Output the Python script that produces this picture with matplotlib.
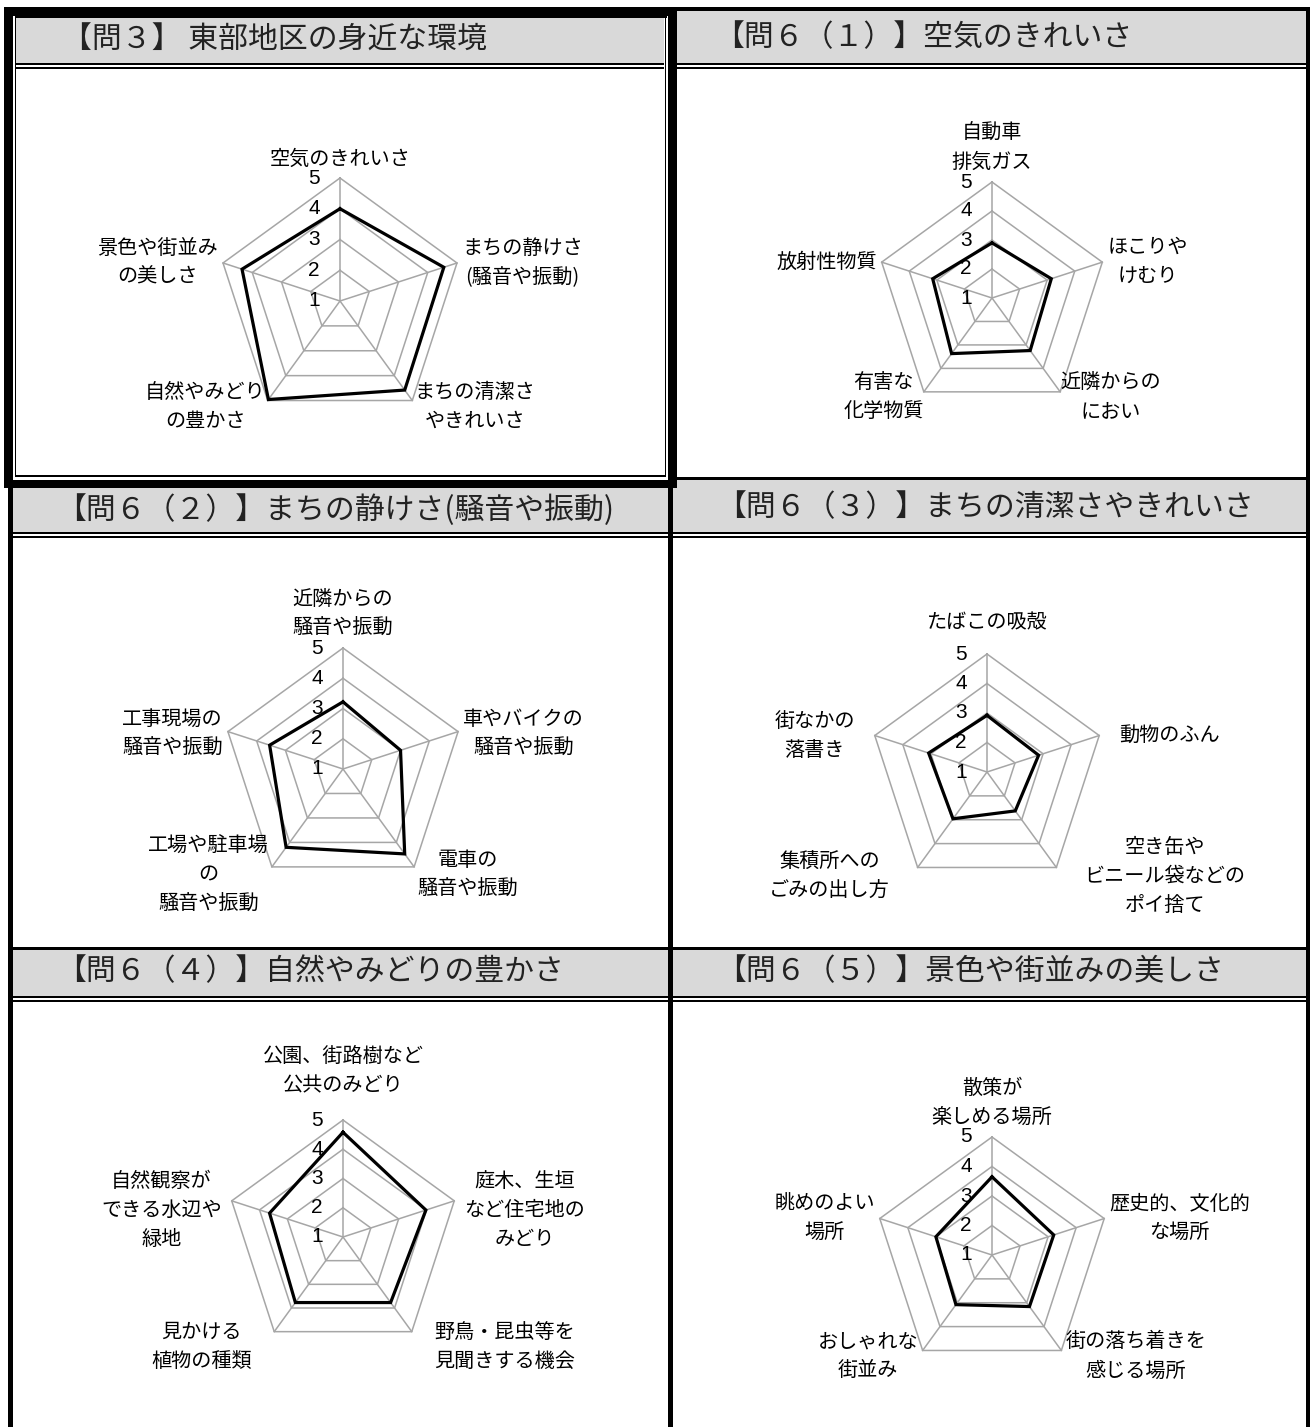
import numpy as np
import matplotlib
matplotlib.use("Agg")
import matplotlib.pyplot as plt
from matplotlib.patches import Rectangle
from matplotlib import font_manager

# data (scale 1..5)
titles = ["【問３】 東部地区の身近な環境",
          "【問６（１）】空気のきれいさ",
          "【問６（２）】まちの静けさ(騒音や振動)",
          "【問６（３）】まちの清潔さやきれいさ",
          "【問６（４）】自然やみどりの豊かさ",
          "【問６（５）】景色や街並みの美しさ"]

cats_q3 = ["空気のきれいさ", "まちの静けさ\n(騒音や振動)", "まちの清潔さ\nやきれいさ",
           "自然やみどり\nの豊かさ", "景色や街並み\nの美しさ"]
vals_q3 = [4.0, 4.55, 4.58, 4.96, 4.35]

cats_air = ["自動車\n排気ガス", "ほこりや\nけむり", "近隣からの\nにおい", "有害な\n化学物質", "放射性物質"]
vals_air = [2.9, 3.15, 3.24, 3.37, 3.15]

cats_noise = ["近隣からの\n騒音や振動", "車やバイクの\n騒音や振動", "電車の\n騒音や振動",
              "工場や駐車場\nの\n騒音や振動", "工事現場の\n騒音や振動"]
vals_noise = [3.22, 3.0, 4.47, 4.2, 3.55]

cats_clean = ["たばこの吸殻", "動物のふん", "空き缶や\nビニール袋などの\nポイ捨て",
              "集積所への\nごみの出し方", "街なかの\n落書き"]
vals_clean = [2.92, 2.84, 2.63, 2.96, 3.08]

cats_green = ["公園、街路樹など\n公共のみどり", "庭木、生垣\nなど住宅地の\nみどり",
              "野鳥・昆虫等を\n見聞きする機会", "見かける\n植物の種類", "自然観察が\nできる水辺や\n緑地"]
vals_green = [4.58, 3.98, 3.77, 3.77, 3.64]

cats_scene = ["散策が\n楽しめる場所", "歴史的、文化的\nな場所", "街の落ち着きを\n感じる場所",
              "おしゃれな\n街並み", "眺めのよい\n場所"]
vals_scene = [3.65, 3.2, 3.16, 3.08, 3.0]

ticks = [1, 2, 3, 4, 5]

all_cats = [cats_q3, cats_air, cats_noise, cats_clean, cats_green, cats_scene]
all_vals = [vals_q3, vals_air, vals_noise, vals_clean, vals_green, vals_scene]

# layout (pixels, y down)
W, H = 1310, 1427
centers = [(340, 301), (992, 298), (343, 769), (987, 772), (343, 1237), (992, 1255)]
radii = [123, 116, 121, 118, 117, 118]
title_pos = [(62, 40), (714, 38), (56, 510), (716, 508), (56, 972), (716, 972)]
top_pad = [8, 9, 9, 21, 24, 9]
side_pad = [5, 5, 5, 20, 10, 5]
side_dy = [0, 0, -2, 0, -10, 0]
bot_pad = [2, 0, 3, 28, 22, 4]
bot_dy = [-6, -5, -8, -9, -15, -6]

JP = "Noto Sans CJK JP"
names = {f.name for f in font_manager.fontManager.ttflist}
num_font = "Liberation Sans Narrow" if "Liberation Sans Narrow" in names else "Liberation Sans"

fig = plt.figure(figsize=(W / 100, H / 100), dpi=100)
bg = fig.add_axes([0, 0, 1, 1])
bg.set_xlim(0, W)
bg.set_ylim(H, 0)
bg.axis("off")


def box(x0, y0, x1, y1, color="black"):
    bg.add_patch(Rectangle((x0, y0), x1 - x0, y1 - y0, facecolor=color,
                           edgecolor="none", linewidth=0))


gray = "#d9d9d9"
# header fills
box(16, 17, 664, 63, gray)
box(677, 11, 1306, 64, gray)
box(13, 488, 668, 532, gray)
box(673, 480, 1306, 532, gray)
box(13, 950, 668, 996, gray)
box(673, 950, 1306, 996, gray)

# thick frame around the first panel
box(4, 7, 677, 15.5)
box(4, 480, 677, 488)
box(4, 7, 13, 488)
box(668, 7, 677, 488)
# thin inner line of the first panel
box(14.5, 16, 16, 477)
box(14.5, 16, 666.5, 17.5)
box(664.5, 16, 666, 477)
box(14.5, 475, 666, 477)

# other frame lines
box(677, 7, 1310, 11)
box(1306, 7, 1310, H)
box(8, 488, 13, H)
box(668, 488, 673, H)
box(677, 477, 1306, 480)
box(13, 947, 1306, 950)

# double lines under headers
for (x0, x1) in [(16, 664), (677, 1306)]:
    box(x0, 63, x1, 65)
    box(x0, 67, x1, 69)
for (x0, x1) in [(13, 668), (673, 1306)]:
    box(x0, 532, x1, 534)
    box(x0, 535.5, x1, 537.5)
    box(x0, 996, x1, 998)
    box(x0, 999.5, x1, 1001.5)

for (tx, ty), t in zip(title_pos, titles):
    bg.text(tx, ty, t, fontsize=21.5, family=[JP, "DejaVu Sans"], color="#222222",
            ha="left", va="center")

# radar charts on plain axes
ang = np.pi / 2 - np.arange(5) * 2 * np.pi / 5
L = 140
for i in range(6):
    cx, cy = centers[i]
    R = radii[i]
    ax = fig.add_axes([(cx - L) / W, 1 - (cy + L) / H, 2 * L / W, 2 * L / H])
    ax.set_xlim(-L / R, L / R)
    ax.set_ylim(-L / R, L / R)
    ax.axis("off")
    ax.patch.set_alpha(0)

    # grid rings and spokes
    for t in ticks[1:]:
        r = (t - ticks[0]) / (ticks[-1] - ticks[0])
        ax.plot(np.append(r * np.cos(ang), r * np.cos(ang[0])),
                np.append(r * np.sin(ang), r * np.sin(ang[0])),
                color="#a6a6a6", lw=1.1, zorder=1)
    for a in ang:
        ax.plot([0, np.cos(a)], [0, np.sin(a)], color="#a6a6a6", lw=1.1, zorder=1)

    # data line
    v = np.array(all_vals[i])
    rn = (v - ticks[0]) / (ticks[-1] - ticks[0])
    ax.plot(np.append(rn * np.cos(ang), rn[0] * np.cos(ang[0])),
            np.append(rn * np.sin(ang), rn[0] * np.sin(ang[0])),
            color="black", lw=2.3, zorder=3, solid_joinstyle="miter")

    # tick labels along the top spoke
    for t in ticks:
        r = (t - ticks[0]) / (ticks[-1] - ticks[0])
        ax.annotate(str(t), (0, r), xytext=(-26, 0), textcoords="offset pixels",
                    ha="center", va="center", fontsize=15, family=num_font,
                    color="black", zorder=4)

    # category labels
    cats = all_cats[i]
    vx, vy = np.cos(ang), np.sin(ang)
    kw = dict(textcoords="offset pixels", fontsize=14.5, family=[JP, "DejaVu Sans"],
              multialignment="center", linespacing=1.5, color="black", zorder=5)
    ax.annotate(cats[0], (vx[0], vy[0]), xytext=(0, top_pad[i]), ha="center", va="bottom", **kw)
    ax.annotate(cats[1], (vx[1], vy[1]), xytext=(side_pad[i], side_dy[i]), ha="left", va="center", **kw)
    ax.annotate(cats[2], (vx[2], vy[2]), xytext=(bot_pad[i], bot_dy[i]), ha="left", va="center", **kw)
    ax.annotate(cats[3], (vx[3], vy[3]), xytext=(-bot_pad[i], bot_dy[i]), ha="right", va="center", **kw)
    ax.annotate(cats[4], (vx[4], vy[4]), xytext=(-side_pad[i], side_dy[i]), ha="right", va="center", **kw)

fig.savefig("out.png", dpi=100)
